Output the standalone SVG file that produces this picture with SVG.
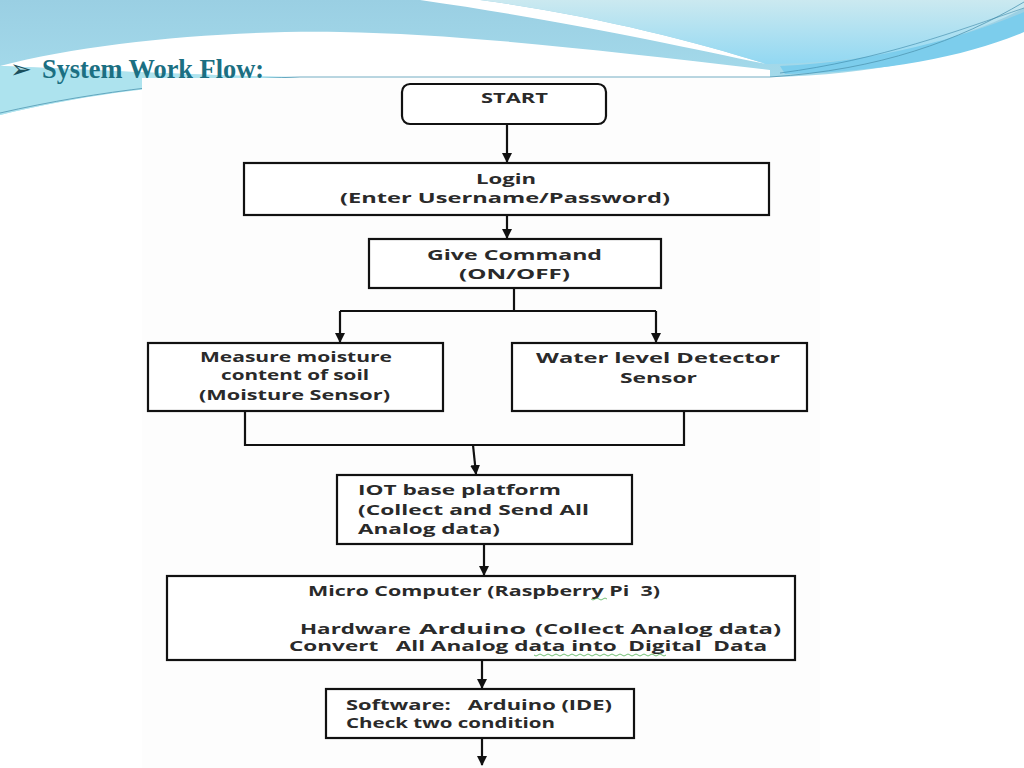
<svg xmlns="http://www.w3.org/2000/svg" width="1024" height="768" viewBox="0 0 1024 768">
<defs>
<linearGradient id="sky" x1="0" y1="0" x2="0" y2="1">
<stop offset="0" stop-color="#9acfe3"/>
<stop offset="1" stop-color="#a9dfee"/>
</linearGradient>
<linearGradient id="pale" x1="0" y1="0" x2="0" y2="1">
<stop offset="0" stop-color="#cbe9f0"/>
<stop offset="1" stop-color="#92d8f2"/>
</linearGradient>
<marker id="arr" markerWidth="12" markerHeight="10" refX="9" refY="5" orient="auto" markerUnits="userSpaceOnUse" viewBox="0 0 12 10">
<path d="M0,0 L10,5 L0,10 Z" fill="#111"/>
</marker>
</defs>
<style>
.box{fill:#fff;stroke:#111;stroke-width:2.2}
.t{font-family:"Open Sans","Liberation Sans",sans-serif;font-weight:bold;font-size:14.5px;fill:#2a2a2a}
.c{stroke:#111;stroke-width:2.2;fill:none}
.ca{stroke:#111;stroke-width:2.2;fill:none;marker-end:url(#arr)}
.sq{fill:none;stroke:#4caf50;stroke-width:0.8}
</style>
<rect width="1024" height="768" fill="#fff"/>
<g id="background">
<path d="M0,0 H1024 V30 C950,55 880,75 770,77 L300,77 C180,80 80,95 0,115 Z" fill="url(#sky)"/>
<path d="M0,66 C90,42 230,30 340,32 C460,34 600,50 770,70 L770,77 L300,77 C200,76 100,70 0,66 Z" fill="#ffffff"/>
<path d="M0,66 C100,70 200,76 300,77 C180,82 80,95 0,115 Z" fill="#ade3ee"/>
<path d="M420,0 H480 C590,15 690,40 766,64 C680,46 560,20 420,0 Z" fill="#ffffff"/>
<path d="M480,0 H1024 V8 C960,42 870,64 766,64 C690,40 590,15 480,0 Z" fill="url(#pale)"/>
<path d="M780,66 C880,62 970,35 1024,12 V32 C970,55 890,72 785,74 Z" fill="#7ccdec"/>
<path d="M0,113 C100,90 200,80 300,77 L770,77 C880,70 960,40 1024,2" fill="none" stroke="#4f97b3" stroke-width="0.8"/>
<path d="M780,73 C880,60 960,30 1024,8" fill="none" stroke="#3a86a6" stroke-width="0.6"/>
</g>
<rect x="142" y="78" width="678" height="690" fill="#fdfdfd"/>
<g id="title">
<text x="10" y="78" font-family="'DejaVu Sans',sans-serif" font-size="26" fill="#1a4f5c">➢</text>
<text x="42" y="78" font-family="'Liberation Serif',serif" font-weight="bold" font-size="28" fill="#1b6f82" textLength="222" lengthAdjust="spacingAndGlyphs">System Work Flow:</text>
</g>
<g id="connectors">
<line class="ca" x1="507" y1="124" x2="507" y2="162"/>
<line class="ca" x1="507" y1="215" x2="507" y2="238"/>
<line class="c" x1="514" y1="288" x2="514" y2="311"/>
<line class="c" x1="340" y1="311" x2="656" y2="311"/>
<line class="ca" x1="340" y1="311" x2="340" y2="342"/>
<line class="ca" x1="656" y1="311" x2="656" y2="342"/>
<polyline class="c" points="245,411 245,445 684,445 684,411"/>
<line class="ca" x1="473" y1="445" x2="476" y2="474"/>
<line class="ca" x1="484" y1="544" x2="484" y2="575"/>
<line class="ca" x1="482" y1="660" x2="482" y2="688"/>
<line class="ca" x1="482" y1="738" x2="482" y2="765"/>
</g>
<g id="start">
<rect class="box" x="402" y="84" width="204" height="40" rx="8"/>
<text class="t" x="481" y="103" textLength="67" lengthAdjust="spacingAndGlyphs">START</text>
</g>
<g id="login">
<rect class="box" x="244" y="163" width="525" height="52"/>
<text class="t" x="476" y="184" textLength="60" lengthAdjust="spacingAndGlyphs">Login</text>
<text class="t" x="340" y="203" textLength="330" lengthAdjust="spacingAndGlyphs">(Enter Username/Password)</text>
</g>
<g id="command">
<rect class="box" x="369" y="239" width="292" height="49"/>
<text class="t" x="427" y="260" textLength="175" lengthAdjust="spacingAndGlyphs">Give Command</text>
<text class="t" x="459" y="279" textLength="111" lengthAdjust="spacingAndGlyphs">(ON/OFF)</text>
</g>
<g id="moisture">
<rect class="box" x="148" y="343" width="295" height="68"/>
<text class="t" x="200" y="362" textLength="192" lengthAdjust="spacingAndGlyphs">Measure moisture</text>
<text class="t" x="221" y="380" textLength="148" lengthAdjust="spacingAndGlyphs">content of soil</text>
<text class="t" x="199" y="400" textLength="191" lengthAdjust="spacingAndGlyphs">(Moisture Sensor)</text>
</g>
<g id="water">
<rect class="box" x="512" y="343" width="295" height="68"/>
<text class="t" x="536" y="363" textLength="244" lengthAdjust="spacingAndGlyphs">Water level Detector</text>
<text class="t" x="620" y="383" textLength="77" lengthAdjust="spacingAndGlyphs">Sensor</text>
</g>
<g id="iot">
<rect class="box" x="337" y="475" width="295" height="69"/>
<text class="t" x="358" y="495" textLength="203" lengthAdjust="spacingAndGlyphs">IOT base platform</text>
<text class="t" x="358" y="515" textLength="231" lengthAdjust="spacingAndGlyphs">(Collect and Send All</text>
<text class="t" x="358" y="534" textLength="142" lengthAdjust="spacingAndGlyphs">Analog data)</text>
</g>
<g id="micro">
<rect class="box" x="167" y="576" width="628" height="84"/>
<text class="t" x="308" y="596" textLength="352" lengthAdjust="spacingAndGlyphs" xml:space="preserve">Micro Computer (Raspberry Pi  3)</text>
<text class="t" x="300" y="634" textLength="111" lengthAdjust="spacingAndGlyphs">Hardware</text>
<text class="t" x="419" y="634" font-size="17" textLength="107" lengthAdjust="spacingAndGlyphs">Arduino</text>
<text class="t" x="535" y="634" textLength="246" lengthAdjust="spacingAndGlyphs">(Collect Analog data)</text>
<text class="t" x="289" y="651" textLength="478" lengthAdjust="spacingAndGlyphs" xml:space="preserve">Convert   All Analog data into  Digital  Data</text>
<path class="sq" d="M591,599 q2,2 4,0 t4,0 t4,0 t4,0"/>
<path class="sq" d="M534,655 q2,2 4,0 t4,0 t4,0 t4,0 t4,0 t4,0 t4,0 t4,0 t4,0 t4,0 t4,0 t4,0 t4,0 t4,0 t4,0 t4,0 t4,0 t4,0 t4,0 t4,0 t4,0 t4,0 t4,0 t4,0 t4,0 t4,0 t4,0 t4,0 t4,0 t4,0 t4,0 t4,0 t4,0"/>
</g>
<g id="software">
<rect class="box" x="326" y="689" width="308" height="49"/>
<text class="t" x="346" y="710" textLength="266" lengthAdjust="spacingAndGlyphs" xml:space="preserve">Software:   Arduino (IDE)</text>
<text class="t" x="346" y="728" textLength="209" lengthAdjust="spacingAndGlyphs">Check two condition</text>
</g>
</svg>
